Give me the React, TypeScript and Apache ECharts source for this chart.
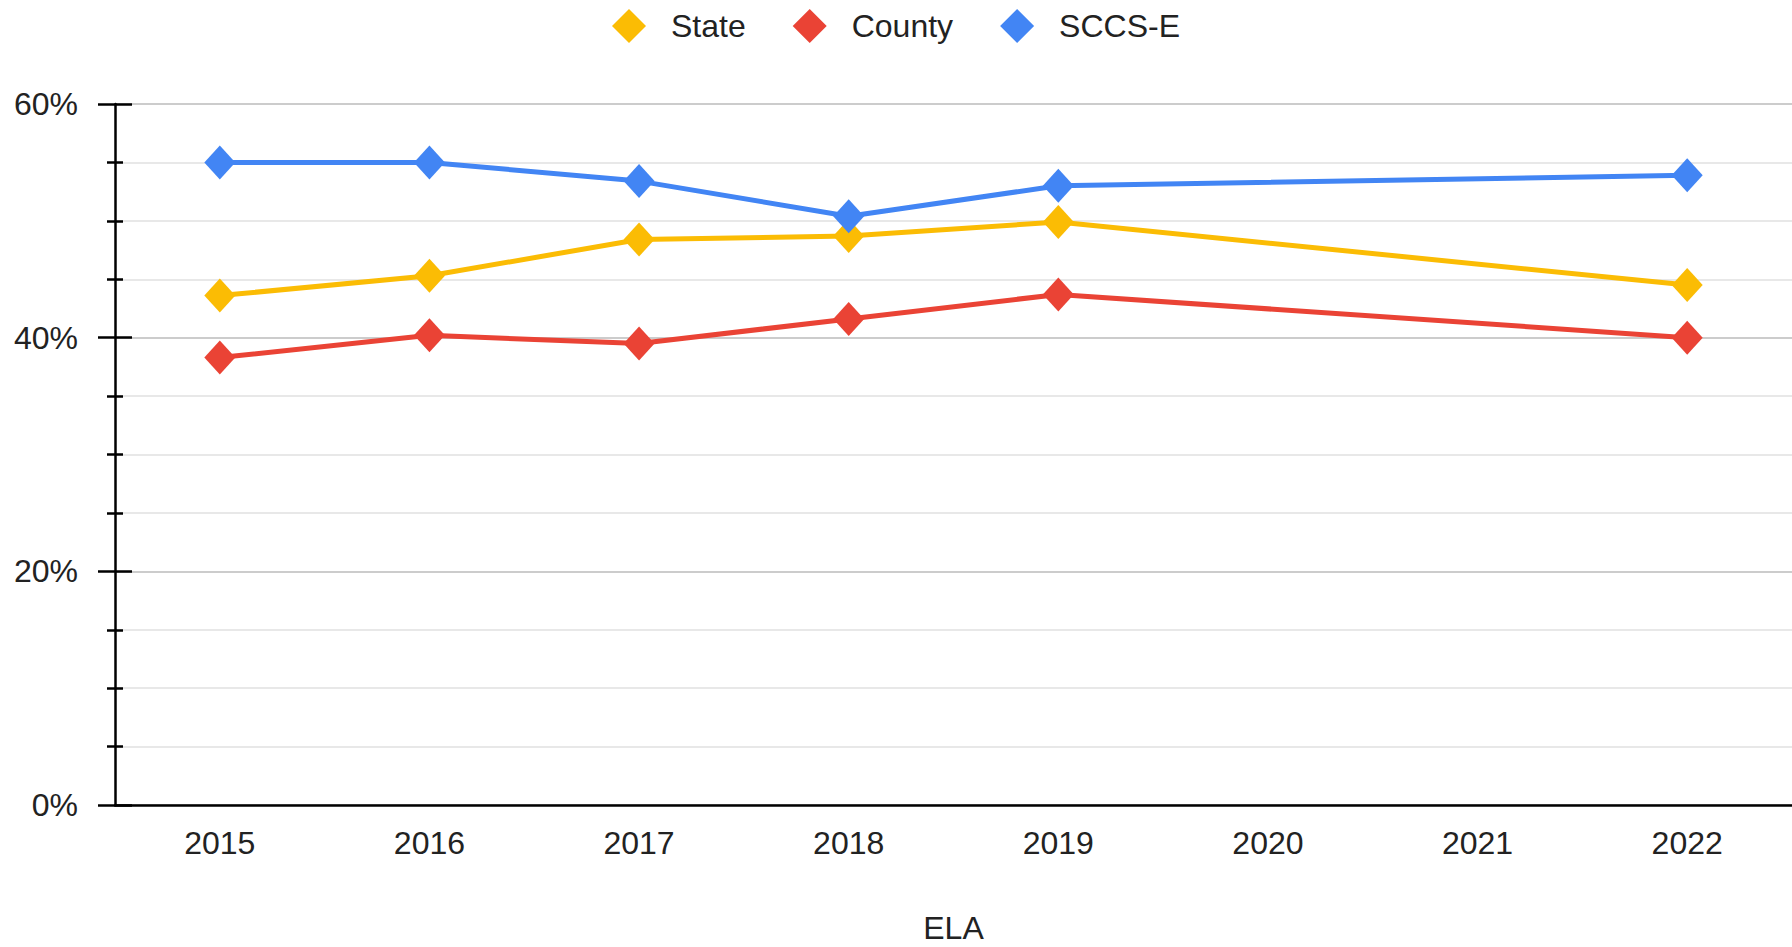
import React, { useEffect, useRef } from "react";
import * as echarts from "echarts";

const years = ["2015", "2016", "2017", "2018", "2019", "2020", "2021", "2022"];
const stateValues = [43.6, 45.3, 48.4, 48.7, 49.9, null, null, 44.5];
const countyValues = [38.3, 40.2, 39.5, 41.6, 43.7, null, null, 40.0];
const sccsValues = [55.0, 55.0, 53.4, 50.4, 53.0, null, null, 53.9];
const seriesNames = ["State", "County", "SCCS-E"];
const seriesColors = ["#fbbc04", "#ea4335", "#4285f4"];
const xAxisName = "ELA";

const FONT = "Arial, 'Liberation Sans', sans-serif";

export default function App() {
  const ref = useRef<HTMLDivElement>(null);
  useEffect(() => {
    if (!ref.current) return;
    const chart = echarts.init(ref.current, undefined, { renderer: "svg" });
    const data = [stateValues, countyValues, sccsValues];
    const yBase = {
      type: "value",
      min: 0,
      max: 60,
      interval: 20,
      position: "left",
    };
    chart.setOption({
      animation: false,
      backgroundColor: "#ffffff",
      textStyle: { fontFamily: FONT },
      legend: {
        top: 4,
        left: "center",
        icon: "diamond",
        itemWidth: 34,
        itemHeight: 34,
        itemGap: 47,
        symbolKeepAspect: false,
        textStyle: {
          fontSize: 32,
          color: "#222222",
          fontFamily: FONT,
          padding: [0, 0, 0, 20],
        },
        data: seriesNames,
      },
      grid: {
        left: 115,
        right: 0,
        top: 104,
        bottom: 142,
        outerBoundsMode: "none",
        containLabel: false,
      },
      xAxis: {
        type: "category",
        data: years,
        boundaryGap: true,
        name: xAxisName,
        nameLocation: "middle",
        nameGap: 123,
        nameTextStyle: {
          fontSize: 32,
          color: "#222222",
          fontFamily: FONT,
          verticalAlign: "middle",
          lineHeight: 26,
        },
        axisLine: { show: true, lineStyle: { color: "#000000", width: 2.5 } },
        axisTick: { show: false },
        axisLabel: { fontSize: 32, color: "#222222", margin: 22, fontFamily: FONT },
        splitLine: { show: false },
      },
      yAxis: [
        {
          ...yBase,
          axisLine: { show: true, lineStyle: { color: "#000000", width: 2.5 } },
          axisTick: { show: true, inside: false, length: 17, lineStyle: { color: "#000000", width: 2.5 } },
          minorTick: { show: true, splitNumber: 4, length: 8, lineStyle: { color: "#000000", width: 2.5 } },
          axisLabel: {
            fontSize: 32,
            color: "#222222",
            margin: 37,
            fontFamily: FONT,
            formatter: "{value}%",
          },
          splitLine: { show: true, lineStyle: { color: "#cccccc", width: 2 } },
          minorSplitLine: { show: true, lineStyle: { color: "#e8e8e8", width: 2 } },
        },
        {
          ...yBase,
          axisLine: { show: false },
          axisTick: { show: true, inside: true, length: 17, lineStyle: { color: "#000000", width: 2.5 } },
          minorTick: { show: true, splitNumber: 4, length: 8, lineStyle: { color: "#000000", width: 2.5 } },
          axisLabel: { show: false },
          splitLine: { show: false },
          minorSplitLine: { show: false },
        },
      ],
      series: seriesNames.map((name, i) => ({
        name,
        type: "line",
        yAxisIndex: 0,
        data: data[i],
        connectNulls: true,
        symbol: "diamond",
        symbolSize: [31, 34],
        showSymbol: true,
        color: seriesColors[i],
        lineStyle: { color: seriesColors[i], width: 5 },
        itemStyle: { color: seriesColors[i] },
        z: 2 + i,
      })),
    });
    return () => chart.dispose();
  }, []);
  return (
    <div
      ref={ref}
      style={{ position: "fixed", left: 0, top: 0, width: 1792, height: 947 }}
    />
  );
}
